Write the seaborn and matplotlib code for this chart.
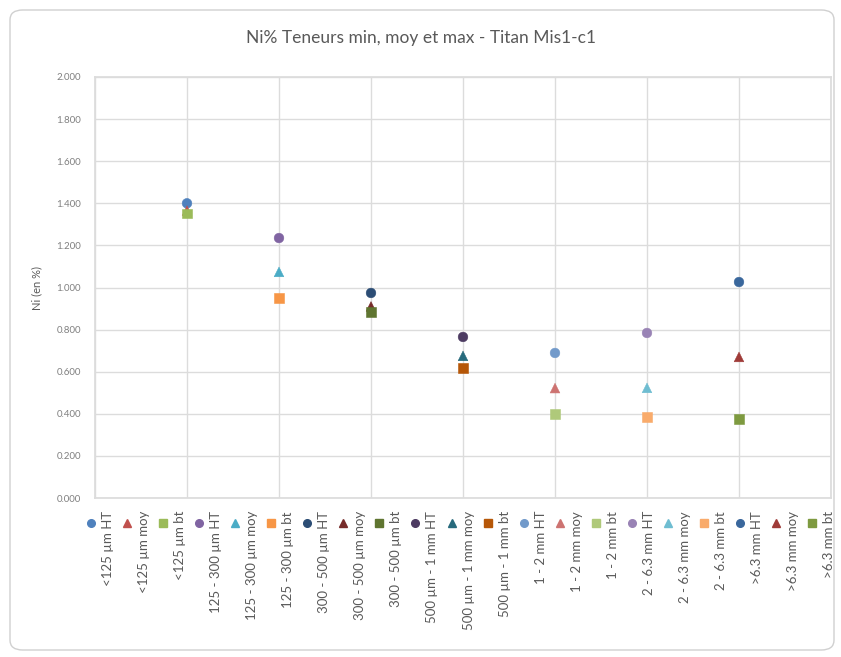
import pandas as pd
import seaborn as sns
import numpy as np
import matplotlib.pyplot as plt
from matplotlib.lines import Line2D
from matplotlib.patches import FancyBboxPatch

# size classes and series (HT = max, moy = mean, bt = min)
classes = ['<125 µm', '125 - 300 µm', '300 - 500 µm', '500 µm - 1 mm',
           '1 - 2 mm', '2 - 6.3 mm', '>6.3 mm']
kinds = ['HT', 'moy', 'bt']
ni_ht = [1.400, 1.235, 0.974, 0.765, 0.689, 0.784, 1.026]
ni_moy = [1.365, 1.074, 0.910, 0.675, 0.522, 0.523, 0.670]
ni_bt = [1.352, 0.950, 0.884, 0.617, 0.399, 0.385, 0.375]

# office 2010 style palette, one colour per series
colors = ['#4F81BD', '#C0504D', '#9BBB59', '#8064A2', '#4BACC6', '#F79646',
          '#2C4D75', '#772C2A', '#5F7530', '#4D3B62', '#276A7C', '#B65708',
          '#729ACA', '#CD7371', '#AFC97A', '#9983B5', '#6FBDD1', '#F9AB6B',
          '#3A679C', '#9F3B38', '#7E9A40']
kind_marker = {'HT': 'o', 'moy': '^', 'bt': 's'}

rows = []
for i, c in enumerate(classes):
    for k, vals in zip(kinds, [ni_ht, ni_moy, ni_bt]):
        rows.append({'pos': i + 1, 'val': vals[i], 'serie': f'{c} {k}', 'kind': k})
df = pd.DataFrame(rows)
series = list(df['serie'])
pal = dict(zip(series, colors))
markers = {s: kind_marker[k] for s, k in zip(df['serie'], df['kind'])}

sns.set_theme(style='white')
plt.rcParams['font.family'] = ['Lato', 'DejaVu Sans']

fig = plt.figure(figsize=(8.41, 6.57), dpi=100)
ax = fig.add_axes([95 / 841, 159 / 657, 736 / 841, 421 / 657])

sns.scatterplot(data=df, x='pos', y='val', hue='serie', style='serie',
                palette=pal, markers=markers, s=48, linewidth=0.4,
                edgecolor=None, legend=False, ax=ax, zorder=3)

ax.set_xlim(0, 8)
ax.set_ylim(0, 2.0)
ax.set_xticks(np.arange(0, 9))
ax.set_xticklabels([])
ax.set_yticks(np.arange(0, 2.01, 0.2))
ax.set_yticklabels([f'{v:.3f}' for v in np.arange(0, 2.01, 0.2)],
                   fontsize=7, color='#808080')
ax.tick_params(axis='both', length=0, pad=10)
ax.grid(True, color='#dcdcdc', linewidth=1)
for sp in ax.spines.values():
    sp.set_color('#dcdcdc')
ax.set_xlabel('')
ax.set_ylabel('Ni (en %)', fontsize=8, color='#595959', labelpad=10)

fig.text(0.5, 1 - 38 / 657, 'Ni% Teneurs min, moy et max - Titan Mis1-c1',
         ha='center', va='center', fontsize=12.5, color='#595959')

# legend: one row of markers with vertical labels
x0, step = 91, 36.05
for j, (s, k) in enumerate(zip(df['serie'], df['kind'])):
    xm = (x0 + j * step) / 841
    fig.add_artist(Line2D([xm], [1 - 523 / 657], marker=kind_marker[k],
                          color=pal[s], markersize=5.5, linestyle='',
                          transform=fig.transFigure))
    fig.text(xm + 17 / 841, 1 - 511 / 657, s, rotation=90, ha='center',
             va='top', fontsize=9.5, color='#595959')

# rounded chart frame
fig.add_artist(FancyBboxPatch((10 / 841, 7 / 657), 824 / 841, 640 / 657,
                              boxstyle='round,pad=0,rounding_size=0.015',
                              transform=fig.transFigure, facecolor='none',
                              edgecolor='#d0d0d0', linewidth=1))

plt.savefig('out.png', dpi=100)
